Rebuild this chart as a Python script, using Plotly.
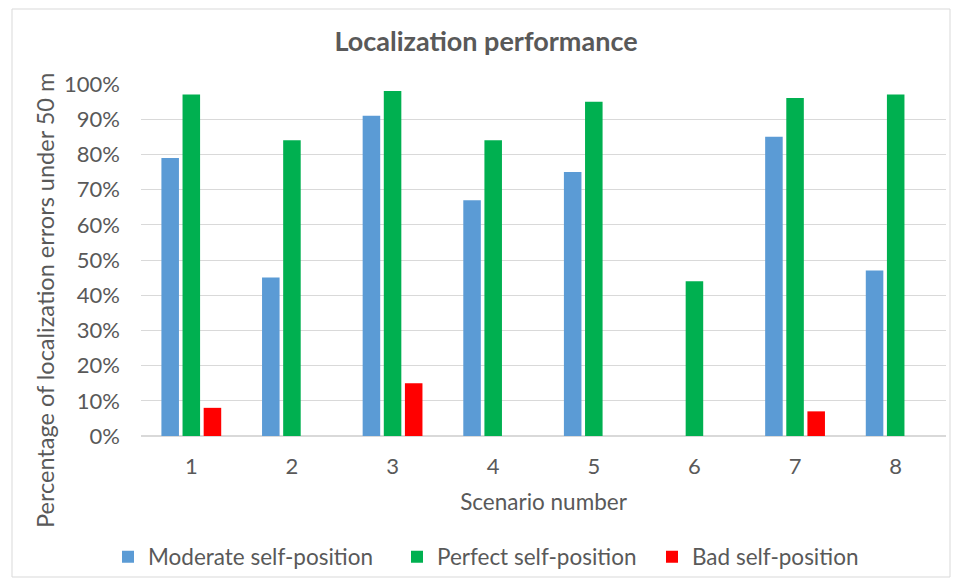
import plotly.graph_objects as go

scenarios = ["1", "2", "3", "4", "5", "6", "7", "8"]
moderate = [0.79, 0.45, 0.91, 0.67, 0.75, None, 0.85, 0.47]
perfect = [0.97, 0.84, 0.98, 0.84, 0.95, 0.44, 0.96, 0.97]
bad = [0.08, None, 0.15, None, None, None, 0.07, None]

series = [
    ("Moderate self-position", moderate, "#5b9bd5"),
    ("Perfect self-position", perfect, "#00b050"),
    ("Bad self-position", bad, "#ff0000"),
]

TEXT = "#595959"
FONT = "Lato, Carlito, sans-serif"

W, H = 955, 582
ml, mr, mt, mb = 141, 9, 84, 146
pw, ph = W - ml - mr, H - mt - mb

def px(x):
    return (x - ml) / pw

def py(y):
    return (H - mb - y) / ph

# one legend per series so each entry sits at its own position
legend_left = [108, 397, 652]
legend_names = ["legend", "legend2", "legend3"]

fig = go.Figure()
for (name, vals, color), lg in zip(series, legend_names):
    fig.add_trace(go.Bar(x=scenarios, y=vals, name=name, marker_color=color,
                         marker_line_width=0, legend=lg, showlegend=True))

legend_cfg = {}
for lg, left in zip(legend_names, legend_left):
    legend_cfg[lg] = dict(orientation="h", xref="container", yref="container",
                          x=left / W, xanchor="left", y=1 - 557 / H,
                          yanchor="middle", font=dict(size=22.5),
                          itemwidth=30, bgcolor="rgba(0,0,0,0)")

fig.update_layout(
    width=W, height=H,
    showlegend=True,
    margin=dict(l=ml, r=mr, t=mt, b=mb, autoexpand=False),
    paper_bgcolor="white", plot_bgcolor="white",
    font=dict(family=FONT, color=TEXT, size=22),
    barmode="group", bargap=0.37, bargroupgap=0.17,
    title=dict(text="<b>Localization performance</b>", x=px(486), xref="paper",
               xanchor="center", y=1 - 42 / H, yanchor="middle",
               font=dict(size=27, color=TEXT, family=FONT)),
    xaxis=dict(title=dict(text="Scenario number", standoff=15,
                          font=dict(size=22.5)),
               tickfont=dict(size=22), showline=True, linecolor="#d9d9d9",
               linewidth=1, ticks="", ticklabelstandoff=11, automargin=False),
    yaxis=dict(range=[0, 1.0001], dtick=0.1, tickformat=".0%",
               tickfont=dict(size=22), gridcolor="#d9d9d9", gridwidth=1,
               zeroline=True, zerolinecolor="#d9d9d9", ticklabelstandoff=20,
               automargin=False),
    annotations=[dict(text="Percentage of localization errors under 50 m",
                      xref="paper", yref="paper", x=px(45), y=py(301),
                      xanchor="center", yanchor="middle", textangle=-90,
                      showarrow=False, font=dict(size=23.5, color=TEXT))],
    shapes=[dict(type="rect", xref="paper", yref="paper",
                 x0=px(12), x1=px(950), y0=py(577), y1=py(9),
                 line=dict(color="#d9d9d9", width=1), layer="below")],
    **legend_cfg,
)

fig.write_html("out.html")
